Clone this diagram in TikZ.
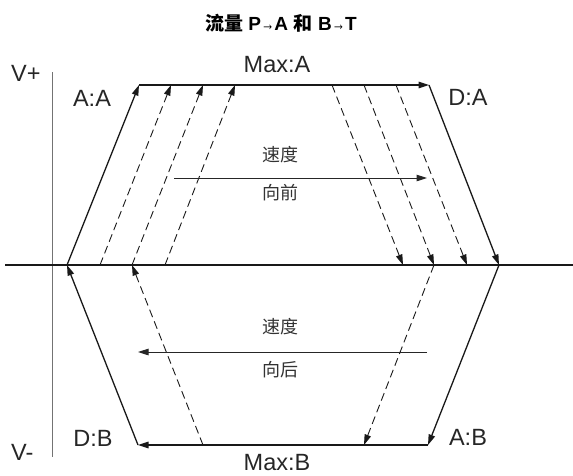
\documentclass[tikz,border=0pt]{standalone}
\usepackage{fontspec}
\setmainfont{Liberation Sans}
\newfontfamily\cjk{Noto Sans CJK SC}
\usetikzlibrary{arrows.meta}
\newcommand{\narrowarr}{\scalebox{0.7}[1]{→}}
\begin{document}
\begin{tikzpicture}[x=1pt,y=-1pt,
  lbl/.style={font=\fontsize{23.5}{28}\selectfont, text=black!85, inner sep=0pt},
  cjklbl/.style={font=\cjk\fontsize{18}{22}\selectfont, text=black!80, inner sep=0pt},
  titlelbl/.style={font=\fontsize{19}{22}\selectfont\bfseries, text=black, inner sep=0pt},
  tip/.style={-{Triangle[length=10.5pt,width=6.5pt]}},
  solidarrow/.style={line width=1.3pt, draw=black!90, tip},
  dasharrow/.style={line width=0.9pt, draw=black!90, dash pattern=on 8pt off 4.5pt, tip},
  speedarrow/.style={line width=1pt, draw=black!85, tip},
  axisline/.style={line width=1pt, draw=black!55},
  baseline/.style={line width=1.2pt, draw=black!90}
]
\useasboundingbox (0,0) rectangle (573,475);

% title
\node[titlelbl] (title) at (281,23)
  {{\cjk 流量}\hspace{5pt}P\narrowarr A\hspace{5pt}{\cjk 和}\hspace{6pt}B\narrowarr T};

% axes
\coordinate (vtop) at (52,72);
\coordinate (vbot) at (52,457);
\coordinate (hl) at (5,265);
\coordinate (hr) at (573,265);
\draw[axisline] (vtop) -- (vbot);
\draw[baseline] (hl) -- (hr);

\node[lbl, anchor=west] (vplus) at (11,73) {V+};
\node[lbl, anchor=west] (vminus) at (11,452) {V-};

% corner points
\coordinate (L) at (67,265);
\coordinate (TL) at (139,85);
\coordinate (TR) at (429,85);
\coordinate (R) at (499,265);
\coordinate (BR) at (428,445);
\coordinate (BL) at (138,445);

% upper solid cycle
\draw[solidarrow] (L) -- (TL);
\draw[solidarrow] (TL) -- (TR);
\draw[solidarrow] (TR) -- (R);

% lower solid cycle
\draw[solidarrow] (R) -- (BR);
\draw[solidarrow] (BR) -- (BL);
\draw[solidarrow] (BL) -- (L);

% upper dashed rising
\coordinate (ua1) at (100,265); \coordinate (ub1) at (171,85);
\coordinate (ua2) at (132,265); \coordinate (ub2) at (203,85);
\coordinate (ua3) at (165,265); \coordinate (ub3) at (235,85);
\draw[dasharrow] (ua1) -- (ub1);
\draw[dasharrow] (ua2) -- (ub2);
\draw[dasharrow] (ua3) -- (ub3);

% upper dashed falling
\coordinate (da1) at (332,85); \coordinate (db1) at (403,265);
\coordinate (da2) at (364,85); \coordinate (db2) at (434,265);
\coordinate (da3) at (396,85); \coordinate (db3) at (467,265);
\draw[dasharrow] (da1) -- (db1);
\draw[dasharrow] (da2) -- (db2);
\draw[dasharrow] (da3) -- (db3);

% lower dashed
\coordinate (la1) at (203,445); \coordinate (lb1) at (132,265);
\coordinate (la2) at (434,265); \coordinate (lb2) at (364,445);
\draw[dasharrow] (la1) -- (lb1);
\draw[dasharrow] (la2) -- (lb2);

% labels
\node[lbl] (maxa) at (277,65) {Max:A};
\node[lbl] (aa) at (92,98) {A:A};
\node[lbl] (da) at (468,97) {D:A};
\node[lbl] (db) at (93,438) {D:B};
\node[lbl] (ab) at (468,437) {A:B};
\node[lbl] (maxb) at (277,463) {Max:B};

% speed forward
\node[cjklbl] (sd1) at (280,155) {速度};
\node[cjklbl] (fw) at (280,193) {向前};
\coordinate (f1) at (174,178); \coordinate (f2) at (427,178);
\draw[speedarrow] (f1) -- (f2);

% speed backward
\node[cjklbl] (sd2) at (280,327) {速度};
\node[cjklbl] (bw) at (280,370) {向后};
\coordinate (b1) at (427,352); \coordinate (b2) at (138,352);
\draw[speedarrow] (b1) -- (b2);
\end{tikzpicture}
\end{document}
